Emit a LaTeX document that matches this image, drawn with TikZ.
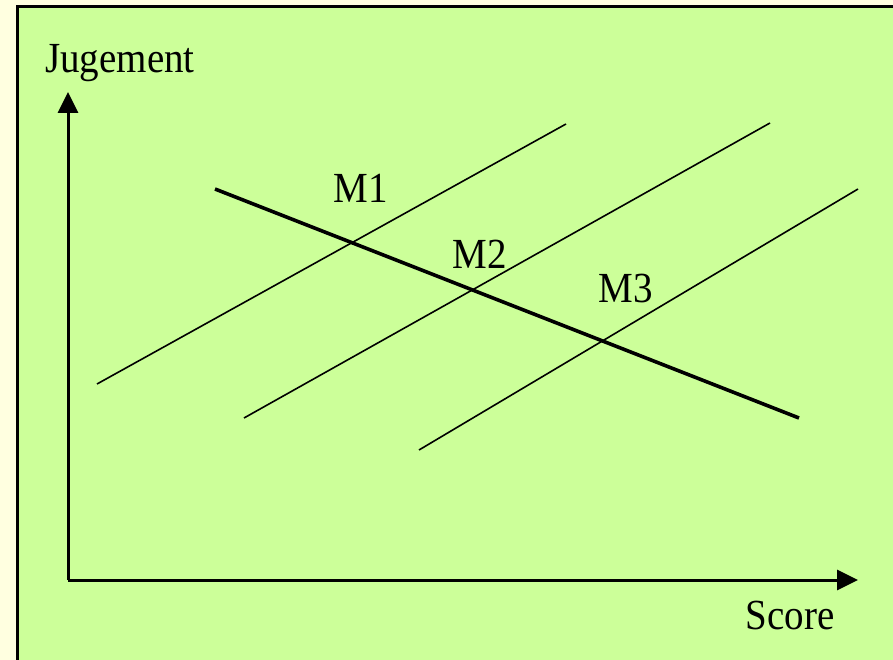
\documentclass[tikz,border=0pt]{standalone}
\usepackage{fontspec}
\setmainfont{Liberation Serif}
\usetikzlibrary{arrows.meta}
\begin{document}
\begin{tikzpicture}[x=1pt,y=-1pt,
  lbl/.style={inner sep=0pt,font=\fontsize{39}{42}\selectfont},
  axis/.style={line width=3pt,-{Triangle[length=21pt,width=20pt]}},
  iso/.style={line width=1.6pt},
  trend/.style={line width=3.6pt}]
\definecolor{cream}{RGB}{255,255,224}
\definecolor{panel}{RGB}{204,255,153}
\useasboundingbox (0,0) rectangle (893,660);
\fill[cream] (0,0) rectangle (893,660);
\draw[fill=panel,line width=3pt] (17,7) rectangle (905,675);
% axes
\coordinate (O) at (68,580);
\coordinate (Ytip) at (68,92);
\coordinate (Xtip) at (858,580);
\draw[axis] (O) -- (Ytip);
\draw[axis] (O) -- (Xtip);
\node[lbl,anchor=base] (jug) at (120,73) {\scalebox{1}[1.1]{Jugement}};
\node[lbl,anchor=base] (score) at (790,629) {\scalebox{1}[1.1]{Score}};
% iso lines
\coordinate (a1) at (97,384); \coordinate (b1) at (566,124);
\coordinate (a2) at (244,418); \coordinate (b2) at (770,123);
\coordinate (a3) at (419,450); \coordinate (b3) at (858,189);
\draw[iso] (a1) -- (b1);
\draw[iso] (a2) -- (b2);
\draw[iso] (a3) -- (b3);
% trend line
\coordinate (t1) at (215,189); \coordinate (t2) at (799,418);
\draw[trend] (t1) -- (t2);
% labels
\node[lbl,anchor=base] (m1) at (361,203) {\scalebox{1}[1.1]{M1}};
\node[lbl,anchor=base] (m2) at (480,268) {\scalebox{1}[1.1]{M2}};
\node[lbl,anchor=base] (m3) at (626,302) {\scalebox{1}[1.1]{M3}};
\end{tikzpicture}
\end{document}
